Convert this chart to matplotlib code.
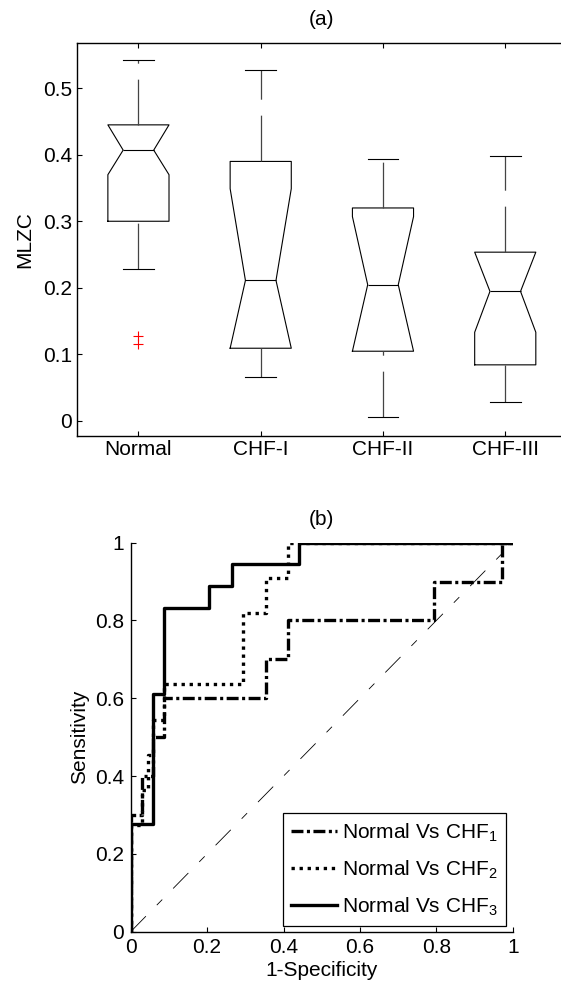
import matplotlib
matplotlib.use('Agg')
from matplotlib import pyplot as plt

plt.rcParams['font.family'] = ['Liberation Sans', 'DejaVu Sans']
plt.rcParams['mathtext.fontset'] = 'custom'
plt.rcParams['mathtext.rm'] = 'Liberation Sans'
plt.rcParams['mathtext.it'] = 'Liberation Sans:italic'
plt.rcParams['lines.scale_dashes'] = False
plt.rcParams['font.size'] = 15

# (a) box plot summary values
groups = ['Normal', 'CHF-I', 'CHF-II', 'CHF-III']
medians = [0.407, 0.211, 0.2045, 0.1945]
q1 = [0.300, 0.109, 0.1045, 0.084]
q3 = [0.445, 0.390, 0.320, 0.2535]
whisk_lo = [0.228, 0.065, 0.006, 0.028]
whisk_hi = [0.542, 0.527, 0.393, 0.398]
notch_lo = [0.370, 0.109, 0.1045, 0.133]
notch_hi = [0.445, 0.349, 0.307, 0.2535]
outliers = [[0.128, 0.115], [], [], []]
mlzc_ticks = [0, 0.1, 0.2, 0.3, 0.4, 0.5]
mlzc_labels = ['0', '0.1', '0.2', '0.3', '0.4', '0.5']

# (b) ROC corner points (steps-post)
fpr_chf1 = [0, 0, 0.029, 0.059, 0.088, 0.353, 0.412, 0.794, 0.971, 1]
tpr_chf1 = [0, 0.3, 0.4, 0.5, 0.6, 0.7, 0.8, 0.9, 1.0, 1.0]
fpr_chf2 = [0, 0, 0.029, 0.044, 0.059, 0.088, 0.294, 0.353, 0.412, 1]
tpr_chf2 = [0, 0.273, 0.364, 0.455, 0.545, 0.636, 0.818, 0.909, 1.0, 1.0]
fpr_chf3 = [0, 0, 0.059, 0.088, 0.206, 0.265, 0.441, 1]
tpr_chf3 = [0, 0.278, 0.611, 0.833, 0.889, 0.944, 1.0, 1.0]
roc_ticks = [0, 0.2, 0.4, 0.6, 0.8, 1]
roc_labels = ['0', '0.2', '0.4', '0.6', '0.8', '1']

fig = plt.figure(figsize=(5.61, 9.86), dpi=100)

# ---- (a) notched box plot ----
ax1 = fig.add_axes([0.1378, 0.5581, 0.8718, 0.3986])
stats = []
for i in range(len(groups)):
    stats.append(dict(label=groups[i], med=medians[i], q1=q1[i], q3=q3[i],
                      whislo=whisk_lo[i], whishi=whisk_hi[i],
                      cilo=notch_lo[i], cihi=notch_hi[i], fliers=outliers[i]))
art = ax1.bxp(stats, positions=[1, 2, 3, 4], widths=0.5, shownotches=True,
              boxprops=dict(color='k', lw=0.8),
              medianprops=dict(color='k', lw=0.8),
              whiskerprops=dict(color='#444444', lw=0.9, linestyle=(0, (33, 11.5))),
              capprops=dict(color='k', lw=0.8),
              flierprops=dict(marker='+', markeredgecolor='r', markersize=7,
                              markeredgewidth=0.8, linestyle='none'))
# lower whiskers start their dash pattern at the whisker end
for w in art['whiskers'][0::2]:
    w.set_ydata(w.get_ydata()[::-1])

ax1.set_xlim(0.5, 4.5)
ax1.set_ylim(-0.0226, 0.5686)
ax1.set_yticks(mlzc_ticks)
ax1.set_yticklabels(mlzc_labels)
ax1.tick_params(direction='in', top=True, right=True, length=3.3, width=0.8)
ax1.tick_params(axis='x', pad=3)
ax1.tick_params(axis='y', pad=4)
for s in ax1.spines.values():
    s.set_linewidth(1.0)
ax1.set_ylabel('MLZC')
ax1.yaxis.set_label_coords(-0.0875, 0.5)
ax1.set_title('(a)', pad=12.7, fontsize=15)

# ---- (b) ROC curves ----
ax2 = fig.add_axes([0.233, 0.0551, 0.681, 0.3945])
ax2.plot([0, 1], [0, 1], color='k', lw=0.6, linestyle=(0, (15.6, 11.2, 5.6, 11.2)))
ax2.plot(fpr_chf1, tpr_chf1, drawstyle='steps-post', color='k', lw=2.4,
         linestyle=(0, (8.6, 2.5, 2.2, 2.5)), label='Normal Vs CHF$_1$')
ax2.plot(fpr_chf2, tpr_chf2, drawstyle='steps-post', color='k', lw=2.4,
         linestyle=(0, (2.4, 3.4)), label='Normal Vs CHF$_2$')
ax2.plot(fpr_chf3, tpr_chf3, drawstyle='steps-post', color='k', lw=2.4,
         linestyle='-', label='Normal Vs CHF$_3$')
ax2.set_xlim(0, 1)
ax2.set_ylim(0, 1)
ax2.set_xticks(roc_ticks)
ax2.set_xticklabels(roc_labels)
ax2.set_yticks(roc_ticks)
ax2.set_yticklabels(roc_labels)
ax2.spines['top'].set_visible(False)
ax2.spines['right'].set_visible(False)
for s in ax2.spines.values():
    s.set_linewidth(1.0)
ax2.tick_params(direction='in', length=3.5, width=0.8)
ax2.tick_params(axis='x', pad=4.5)
ax2.tick_params(axis='y', pad=5)
ax2.set_xlabel('1-Specificity')
ax2.xaxis.set_label_coords(0.5, -0.0753)
ax2.set_ylabel('Sensitivity')
ax2.yaxis.set_label_coords(-0.109, 0.5)
ax2.set_title('(b)', pad=12.7, fontsize=15)

leg = ax2.legend(loc='lower right', bbox_to_anchor=(0.983, 0.015), borderaxespad=0,
                 fancybox=False, edgecolor='k', framealpha=1, fontsize=15,
                 handlelength=2.2, handletextpad=0.25, labelspacing=0.7,
                 borderpad=0.4)
leg.get_frame().set_linewidth(0.9)

fig.savefig('out.png', dpi=100)
